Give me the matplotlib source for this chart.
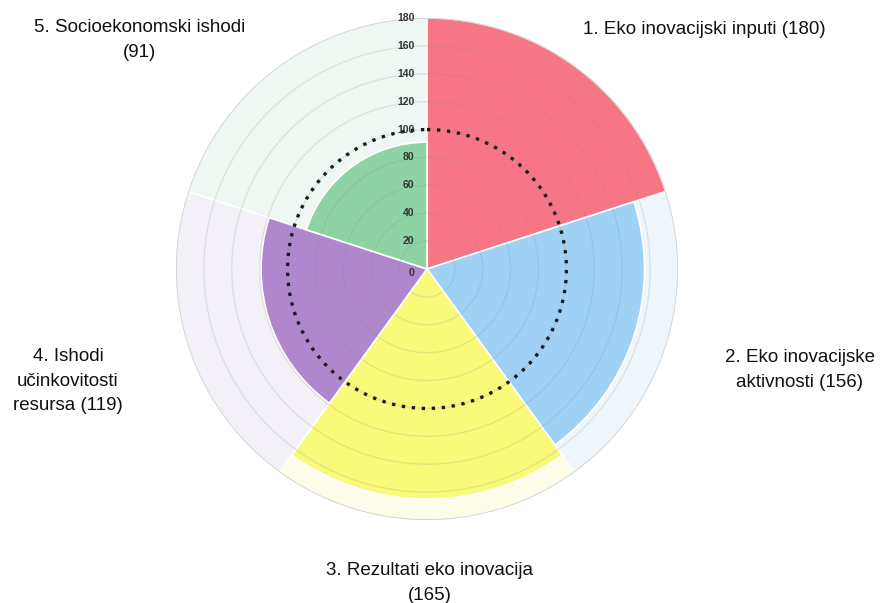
import numpy as np
import matplotlib.pyplot as plt

plt.rcParams["font.family"] = ["Liberation Sans", "DejaVu Sans"]

# data
categories = [
    "1. Eko inovacijski inputi (180)",
    "2. Eko inovacijske\naktivnosti (156)",
    "3. Rezultati eko inovacija\n(165)",
    "4. Ishodi\nučinkovitosti\nresursa (119)",
    "5. Socioekonomski ishodi\n(91)",
]
values = [180, 156, 165, 119, 91]
reference_level = 100
r_ticks = [0, 20, 40, 60, 80, 100, 120, 140, 160, 180]

colors = ["#f77686", "#9ed1f3", "#f9f97a", "#b087cc", "#8dd3a3"]
pale = ["#fde9ec", "#eef6fc", "#fdfde9", "#f3f0f8", "#eef7f2"]

W, H = 890, 603
fig = plt.figure(figsize=(W / 100, H / 100), dpi=100)

cx, cy, rad = 427, 269, 251
ax = fig.add_axes([(cx - rad) / W, (H - cy - rad) / H, 2 * rad / W, 2 * rad / H],
                  projection="polar")
ax.set_theta_zero_location("N")
ax.set_theta_direction(-1)

n = len(values)
width = 2 * np.pi / n
theta = np.arange(n) * width + width / 2

# pale full-size background sectors, then the value sectors
ax.bar(theta, [r_ticks[-1]] * n, width=width, color=pale, edgecolor="white",
       linewidth=1.2, zorder=1)
ax.bar(theta, values, width=width, color=colors, edgecolor="white",
       linewidth=1.2, zorder=2)

# circular gridlines drawn over the sectors
circ = np.linspace(0, 2 * np.pi, 400)
for r in r_ticks[1:]:
    ax.plot(circ, [r] * len(circ), color="#888888", alpha=0.18, linewidth=1.0, zorder=3)
ax.plot(circ, [r_ticks[-1]] * len(circ), color="#d4d4d4", linewidth=1.2, zorder=3)

# reference circle at 100
ax.plot(circ, [reference_level] * len(circ), color="#1a1a1a", linestyle=(0, (1, 2.0)),
        linewidth=2.4, zorder=5)

ax.set_ylim(0, r_ticks[-1])
ax.set_xticks([])
ax.set_yticks([])
ax.grid(False)
ax.spines["polar"].set_visible(False)
ax.patch.set_alpha(0)

for r in r_ticks:
    ax.annotate(str(r), (0, r), xytext=(-9, -3 if r == 0 else 0), textcoords="offset points",
                ha="right", va="center", fontsize=7.5, fontweight="bold", color="#333333",
                zorder=6)

# category labels
label_pos = [(704, 29), (800, 370), (430, 583), (68, 381), (140, 40)]
for text, (x, y) in zip(categories, label_pos):
    fig.text(x / W, 1 - y / H, text, ha="center", va="center", fontsize=13.5,
             color="#111111", linespacing=1.55)

fig.savefig("out.png", dpi=100)
